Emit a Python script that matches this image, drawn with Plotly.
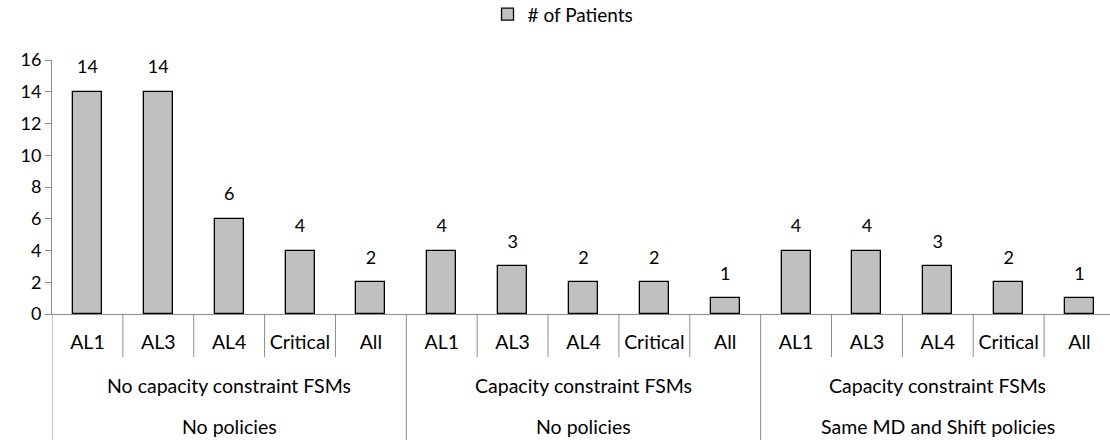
import plotly.graph_objects as go

categories = ["AL1", "AL3", "AL4", "Critical", "All"] * 3
values = [14, 14, 6, 4, 2, 4, 3, 2, 2, 1, 4, 4, 3, 2, 1]
group_level1 = ["No capacity constraint FSMs", "Capacity constraint FSMs", "Capacity constraint FSMs"]
group_level2 = ["No policies", "No policies", "Same MD and Shift policies"]
series_name = "# of Patients"
y_ticks = [0, 2, 4, 6, 8, 10, 12, 14, 16]

FONT = "Lato"
xpos = list(range(len(categories)))

fig = go.Figure()
fig.add_trace(go.Bar(
    x=xpos, y=values, name=series_name, width=0.41,
    marker=dict(color="#c0c0c0", line=dict(color="#000000", width=1.3)),
    showlegend=True, hoverinfo="y",
))
# data labels above bars
fig.add_trace(go.Scatter(
    x=xpos, y=values, mode="markers+text", text=[str(v) for v in values],
    textposition="top center", textfont=dict(family=FONT, size=18, color="#000"),
    marker=dict(size=21, color="rgba(0,0,0,0)"), showlegend=False,
    hoverinfo="skip", cliponaxis=False,
))

shapes = []
n = len(categories)
for i in range(n + 1):
    xb = i - 0.5
    is_group = (i % 5 == 0)
    shapes.append(dict(type="line", xref="x", yref="paper", x0=xb, x1=xb,
                       y0=0, y1=-0.496 if is_group else -0.169,
                       line=dict(color="#8c8c8c", width=1)))

annotations = []
for g in range(3):
    cx = g * 5 + 2
    annotations.append(dict(x=cx, y=-0.28, xref="x", yref="paper", text=group_level1[g],
                            showarrow=False, font=dict(family=FONT, size=19.5, color="#000"),
                            xanchor="center", yanchor="middle"))
    annotations.append(dict(x=cx, y=-0.441, xref="x", yref="paper", text=group_level2[g],
                            showarrow=False, font=dict(family=FONT, size=19.5, color="#000"),
                            xanchor="center", yanchor="middle"))

fig.update_layout(
    width=1110, height=440,
    margin=dict(l=52, r=0, t=60, b=126, autoexpand=False),
    paper_bgcolor="white", plot_bgcolor="white",
    font=dict(family=FONT, size=17, color="#000"),
    bargap=0,
    legend=dict(orientation="h", x=0.483, xanchor="center", y=1.18, yanchor="middle",
                font=dict(family=FONT, size=19, color="#000"), itemwidth=30),
    xaxis=dict(range=[-0.5, 14.43], tickmode="array", tickvals=xpos, ticktext=categories,
               ticks="", showline=True, linecolor="#8c8c8c", linewidth=1,
               showgrid=False, zeroline=False, ticklabelstandoff=11, automargin=False,
               tickfont=dict(family=FONT, size=19.5, color="#000")),
    yaxis=dict(range=[0, 16], tickmode="array", tickvals=y_ticks, ticks="outside",
               ticklen=6, tickcolor="#8c8c8c", showline=True, linecolor="#8c8c8c",
               linewidth=1, showgrid=False, zeroline=False, automargin=False,
               tickfont=dict(family=FONT, size=18, color="#000")),
    shapes=shapes, annotations=annotations,
)

fig.write_html("out.html", config={"displayModeBar": False},
               post_script="document.body.style.margin='0';")
